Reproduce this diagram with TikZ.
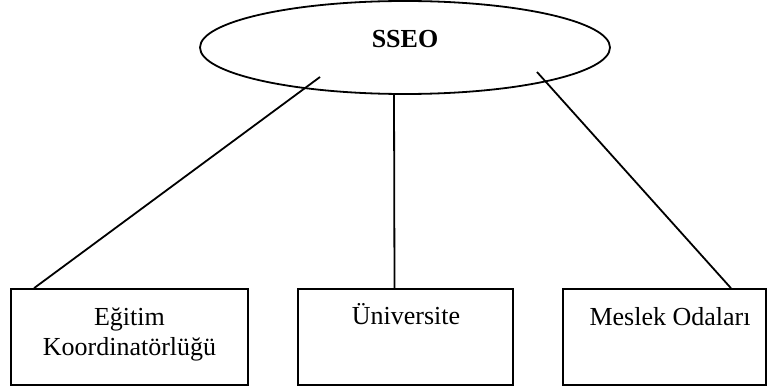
\documentclass[tikz,border=0pt]{standalone}
\usepackage{fontspec}
\setmainfont{Liberation Serif}
\usetikzlibrary{shapes.geometric}

\tikzset{
  orgbox/.style={draw, minimum height=96pt, inner sep=0pt},
  boxlabel/.style={anchor=base, align=center, inner sep=0pt}
}

\begin{document}
\begin{tikzpicture}[x=1pt, y=1pt, line width=1.8pt, font=\fontsize{26}{29.5}\selectfont]
\useasboundingbox (0,0) rectangle (768,389);
% top ellipse
\node[draw, ellipse, minimum width=410pt, minimum height=93pt, inner sep=0pt] (sseo) at (405,341.5) {};
\node[anchor=base, inner sep=0pt] (sseolabel) at (405,341) {\bfseries SSEO};
% the three boxes
\node[orgbox, minimum width=237pt] (egitim) at (129.5,52) {};
\node[orgbox, minimum width=215pt] (univ) at (405.5,52) {};
\node[orgbox, minimum width=203pt] (meslek) at (664.5,52) {};
\node[boxlabel] (egitimlabel) at (129.5,34) {Eğitim\\Koordinatörlüğü};
\node[boxlabel] (univlabel) at (406,65) {Üniversite};
\node[boxlabel] (mesleklabel) at (670,64) {Meslek Odaları};
% connectors
\coordinate (l) at (320,312);
\coordinate (r) at (537,317);
\draw (l) -- ([xshift=24pt]egitim.north west);
\draw ([xshift=-11pt]sseo.south) -- ([xshift=-11pt]univ.north);
\draw (r) -- ([xshift=-36pt]meslek.north east);
\end{tikzpicture}
\end{document}
